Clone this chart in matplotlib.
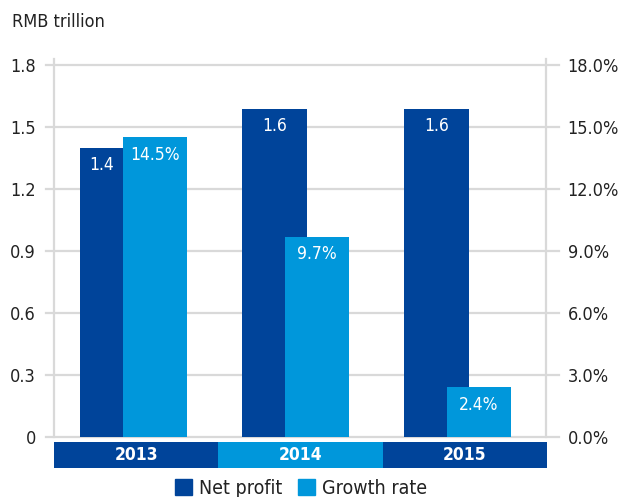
import matplotlib
matplotlib.use('Agg')
import matplotlib.pyplot as plt
from matplotlib.patches import Patch
import numpy as np

# ---- data ----
years = ['2013', '2014', '2015']
net_profit = [1.40, 1.59, 1.59]          # RMB trillion (left axis)
growth_rate = [14.5, 9.7, 2.4]           # % (right axis)
left_ticks = [0, 0.3, 0.6, 0.9, 1.2, 1.5, 1.8]
left_labels = ['0', '0.3', '0.6', '0.9', '1.2', '1.5', '1.8']
right_ticks = [0, 3, 6, 9, 12, 15, 18]
right_labels = ['0.0%', '3.0%', '6.0%', '9.0%', '12.0%', '15.0%', '18.0%']
series_names = ['Net profit', 'Growth rate']
unit_label = 'RMB trillion'

# ---- style ----
DARK = '#00449A'
LIGHT = '#0097DB'
GRID = '#D9D9D9'
TXT = '#222222'
FONT = ['DejaVu Sans']
plt.rcParams['font.family'] = FONT
plt.rcParams['font.stretch'] = 'condensed'

W, H = 620, 497
fig = plt.figure(figsize=(W / 100, H / 100), dpi=100)
ax = fig.add_axes([54 / W, 60 / H, 492 / W, 378 / H])
ax2 = ax.twinx()

x = np.arange(len(years))
net_off, net_w = -0.1296, 0.401
gr_off, gr_w = 0.1327, 0.395

ax.set_xlim(-0.4907, 2.5463)
ax.set_ylim(0, 1.83)
ax2.set_ylim(0, 18.3)

# gridlines (extend slightly beyond both spines)
for t in left_ticks:
    ax.plot([-8 / 492, 1 + 13 / 492], [t, t], transform=ax.get_yaxis_transform(),
            color=GRID, lw=1.6, clip_on=False, zorder=0)

ax.bar(x + net_off, net_profit, width=net_w, color=DARK, zorder=2)
ax2.bar(x + gr_off, growth_rate, width=gr_w, color=LIGHT, zorder=2)

# value labels
for i in range(len(years)):
    left = x[i] + net_off - net_w / 2
    g_left = x[i] + gr_off - gr_w / 2
    if growth_rate[i] / 10 > net_profit[i] - 0.15:
        cx = (left + g_left) / 2
    else:
        cx = x[i] + net_off
    ax2.annotate(f'{net_profit[i]:.1f}', xy=(cx, net_profit[i]), xycoords=ax.transData,
                 xytext=(0, -12.3), textcoords='offset points', ha='center', va='center',
                 color='white', fontsize=12.5, zorder=5)
    ax2.annotate(f'{growth_rate[i]:.1f}%', xy=(x[i] + gr_off, growth_rate[i]),
                 xytext=(0, -12.3), textcoords='offset points', ha='center', va='center',
                 color='white', fontsize=12.5, zorder=5)

# axes styling
for a in (ax, ax2):
    for s in a.spines.values():
        s.set_visible(False)
for side in ('left', 'right'):
    ax.spines[side].set_visible(True)
    ax.spines[side].set_color(GRID)
    ax.spines[side].set_linewidth(1.6)
ax.set_xticks([])
ax.set_yticks(left_ticks, left_labels)
ax.tick_params(axis='y', length=0, pad=13, labelsize=13, labelcolor=TXT)
ax2.set_yticks(right_ticks, right_labels)
ax2.tick_params(axis='y', length=0, pad=15.5, labelsize=13, labelcolor=TXT)

# category band
bax = fig.add_axes([54 / W, 29 / H, 493 / W, 26 / H])
band_colors = [DARK if i % 2 == 0 else LIGHT for i in range(len(years))]
bax.bar(x, [1] * len(years), width=1, color=band_colors)
bax.set_xlim(-0.5, len(years) - 0.5)
bax.set_ylim(0, 1)
bax.axis('off')
for i, y in enumerate(years):
    bax.text(x[i], 0.5, y, ha='center', va='center', color='white',
             fontsize=12.5, fontweight='bold')

# unit label
fig.text(12 / W, 1 - 22 / H, unit_label, ha='left', va='center', fontsize=13, color=TXT)

# legend
handles = [Patch(color=DARK), Patch(color=LIGHT)]
fig.legend(handles, series_names, loc='center', bbox_to_anchor=(301 / W, 1 - 488 / H),
           ncol=2, frameon=False, fontsize=14, handlelength=0.9, handleheight=0.9,
           handletextpad=0.35, columnspacing=0.8, borderpad=0, labelcolor=TXT)

fig.savefig('out.png', dpi=100)
